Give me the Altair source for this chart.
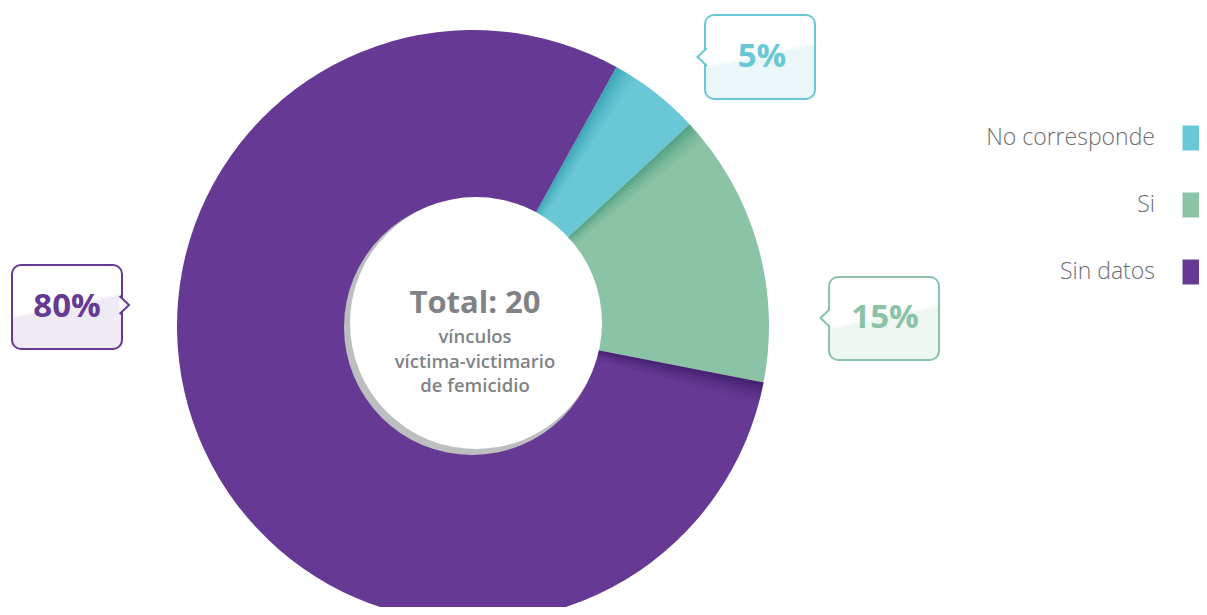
import math
import altair as alt
import pandas as pd

# ---- data ----
categories = ["No corresponde", "Si", "Sin datos"]
counts = [1, 3, 16]
colors = ["#6AC8D6", "#8BC3A6", "#663A94"]
shade_colors = ["#1E8E9C", "#2E8A6C", "#2E0F52"]
total_label = "Total: 20"
sub_lines = ["vínculos", "víctima-victimario", "de femicidio"]

total = sum(counts)
pcts = [round(c / total * 100) for c in counts]
df = pd.DataFrame({"cat": categories, "value": counts, "order": [0, 1, 2]})

# ---- layout (chart pixel coordinates) ----
W, H = 1191, 599
CX, CY, R = 465, 318, 296
start = math.radians(29)
FONT = "Open Sans"

color_scale = alt.Scale(domain=categories, range=colors)

pie = alt.Chart(df).mark_arc(outerRadius=R, innerRadius=0, stroke=None).encode(
    x=alt.value(CX),
    y=alt.value(CY),
    theta=alt.Theta("value:Q", stack=True, scale=alt.Scale(range=[start, start + 2 * math.pi])),
    color=alt.Color("cat:N", scale=color_scale, legend=None),
    order=alt.Order("order:Q"),
)

# soft shading at the start edge of each slice (derived from the slice values)
band = math.radians(0.7)
band_opac = [0.55, 0.42, 0.3, 0.2, 0.12, 0.06]
rows = []
cum = 0
for cat, c, sc in zip(categories, counts, shade_colors):
    s = start + 2 * math.pi * cum / total
    for j, op in enumerate(band_opac):
        rows.append({"t1": s + j * band, "t2": s + (j + 1) * band, "op": op, "sc": sc})
    cum += c
shade_df = pd.DataFrame(rows)
shade = alt.Chart(shade_df).mark_arc(outerRadius=R, innerRadius=0, stroke=None).encode(
    x=alt.value(CX), y=alt.value(CY),
    theta=alt.Theta("t1:Q", scale=None), theta2="t2:Q",
    color=alt.Color("sc:N", scale=None, legend=None),
    opacity=alt.Opacity("op:Q", scale=None, legend=None),
)

one = pd.DataFrame({"a": [0]})
shadow = alt.Chart(one).mark_point(shape="circle", filled=True, color="#BCBEC0", opacity=1, size=256 ** 2).encode(
    x=alt.value(464), y=alt.value(319))
white = alt.Chart(one).mark_point(shape="circle", filled=True, color="#FFFFFF", opacity=1, size=252 ** 2).encode(
    x=alt.value(468), y=alt.value(315))

center_texts = [
    alt.Chart(one).mark_text(text=total_label, font=FONT, fontWeight="bold", fontSize=31, color="#808285",
                             align="center", baseline="middle").encode(x=alt.value(467), y=alt.value(296))
]
for t, yy in zip(sub_lines, [329, 353.5, 378]):
    center_texts.append(
        alt.Chart(one).mark_text(text=t, font=FONT, fontWeight=600, fontSize=18.5, color="#808285",
                                 align="center", baseline="middle").encode(x=alt.value(467), y=alt.value(yy)))

# callouts: box (x1,x2,y1,y2), pointer (xc, yc, side), text center
callout_layout = [
    dict(box=(697, 807, 7, 91), ptr=(694, 49, "left"), txt=(754, 49), tint="#EAF6F8"),
    dict(box=(821, 931, 269, 352), ptr=(817, 310, "left"), txt=(877, 310), tint="#EEF6F1"),
    dict(box=(4, 114, 257, 341), ptr=(116.5, 297, "right"), txt=(59, 299), tint="#EFEAF4"),
]
LEFT_PATH = "M 0.55 -1 L -0.5 0 L 0.55 1"
RIGHT_PATH = "M -0.55 -1 L 0.5 0 L -0.55 1"

callouts = []
for i, lay in enumerate(callout_layout):
    col = colors[i]
    x1, x2, y1, y2 = lay["box"]
    grad = alt.Gradient(
        gradient="linear", x1=0, y1=0, x2=0.28, y2=1,
        stops=[alt.GradientStop(color="#FFFFFF", offset=0),
               alt.GradientStop(color="#FFFFFF", offset=0.56),
               alt.GradientStop(color=lay["tint"], offset=0.6),
               alt.GradientStop(color=lay["tint"], offset=1)])
    box = alt.Chart(one).mark_rect(fill=grad, stroke=col, strokeWidth=2, cornerRadius=9).encode(
        x=alt.value(x1), x2=alt.value(x2), y=alt.value(y1), y2=alt.value(y2))
    px, py, side = lay["ptr"]
    ptr = alt.Chart(one).mark_point(
        shape=LEFT_PATH if side == "left" else RIGHT_PATH,
        filled=False, fill="#FFFFFF", fillOpacity=1, stroke=col, strokeWidth=2, opacity=1, size=18 ** 2,
    ).encode(x=alt.value(px), y=alt.value(py))
    tx, ty = lay["txt"]
    txt = alt.Chart(one).mark_text(text=f"{pcts[i]}%", font=FONT, fontWeight="bold", fontSize=33, color=col,
                                   align="center", baseline="middle").encode(x=alt.value(tx), y=alt.value(ty))
    callouts += [box, ptr, txt]

leg_y = alt.Y("cat:N", scale=alt.Scale(domain=categories, range=[130, 264], padding=0), axis=None)
leg_sq = alt.Chart(df).mark_point(shape="square", filled=True, opacity=1, size=25 ** 2).encode(
    x=alt.value(1187), y=leg_y, color=alt.Color("cat:N", scale=color_scale, legend=None))
leg_txt = alt.Chart(df).mark_text(font=FONT, fontSize=23, fontWeight=300, color="#6D6E71", align="right",
                                  baseline="middle").encode(x=alt.value(1147), y=leg_y, text="cat:N")

chart = alt.layer(pie, shade, shadow, white, *center_texts, *callouts, leg_sq, leg_txt).properties(
    width=W, height=H, padding=0, autosize=alt.AutoSizeParams(type="none")
).configure(background="#FFFFFF").configure_view(strokeWidth=0, stroke="transparent")

chart.save("out.html", embed_options={"renderer": "svg", "actions": False})
